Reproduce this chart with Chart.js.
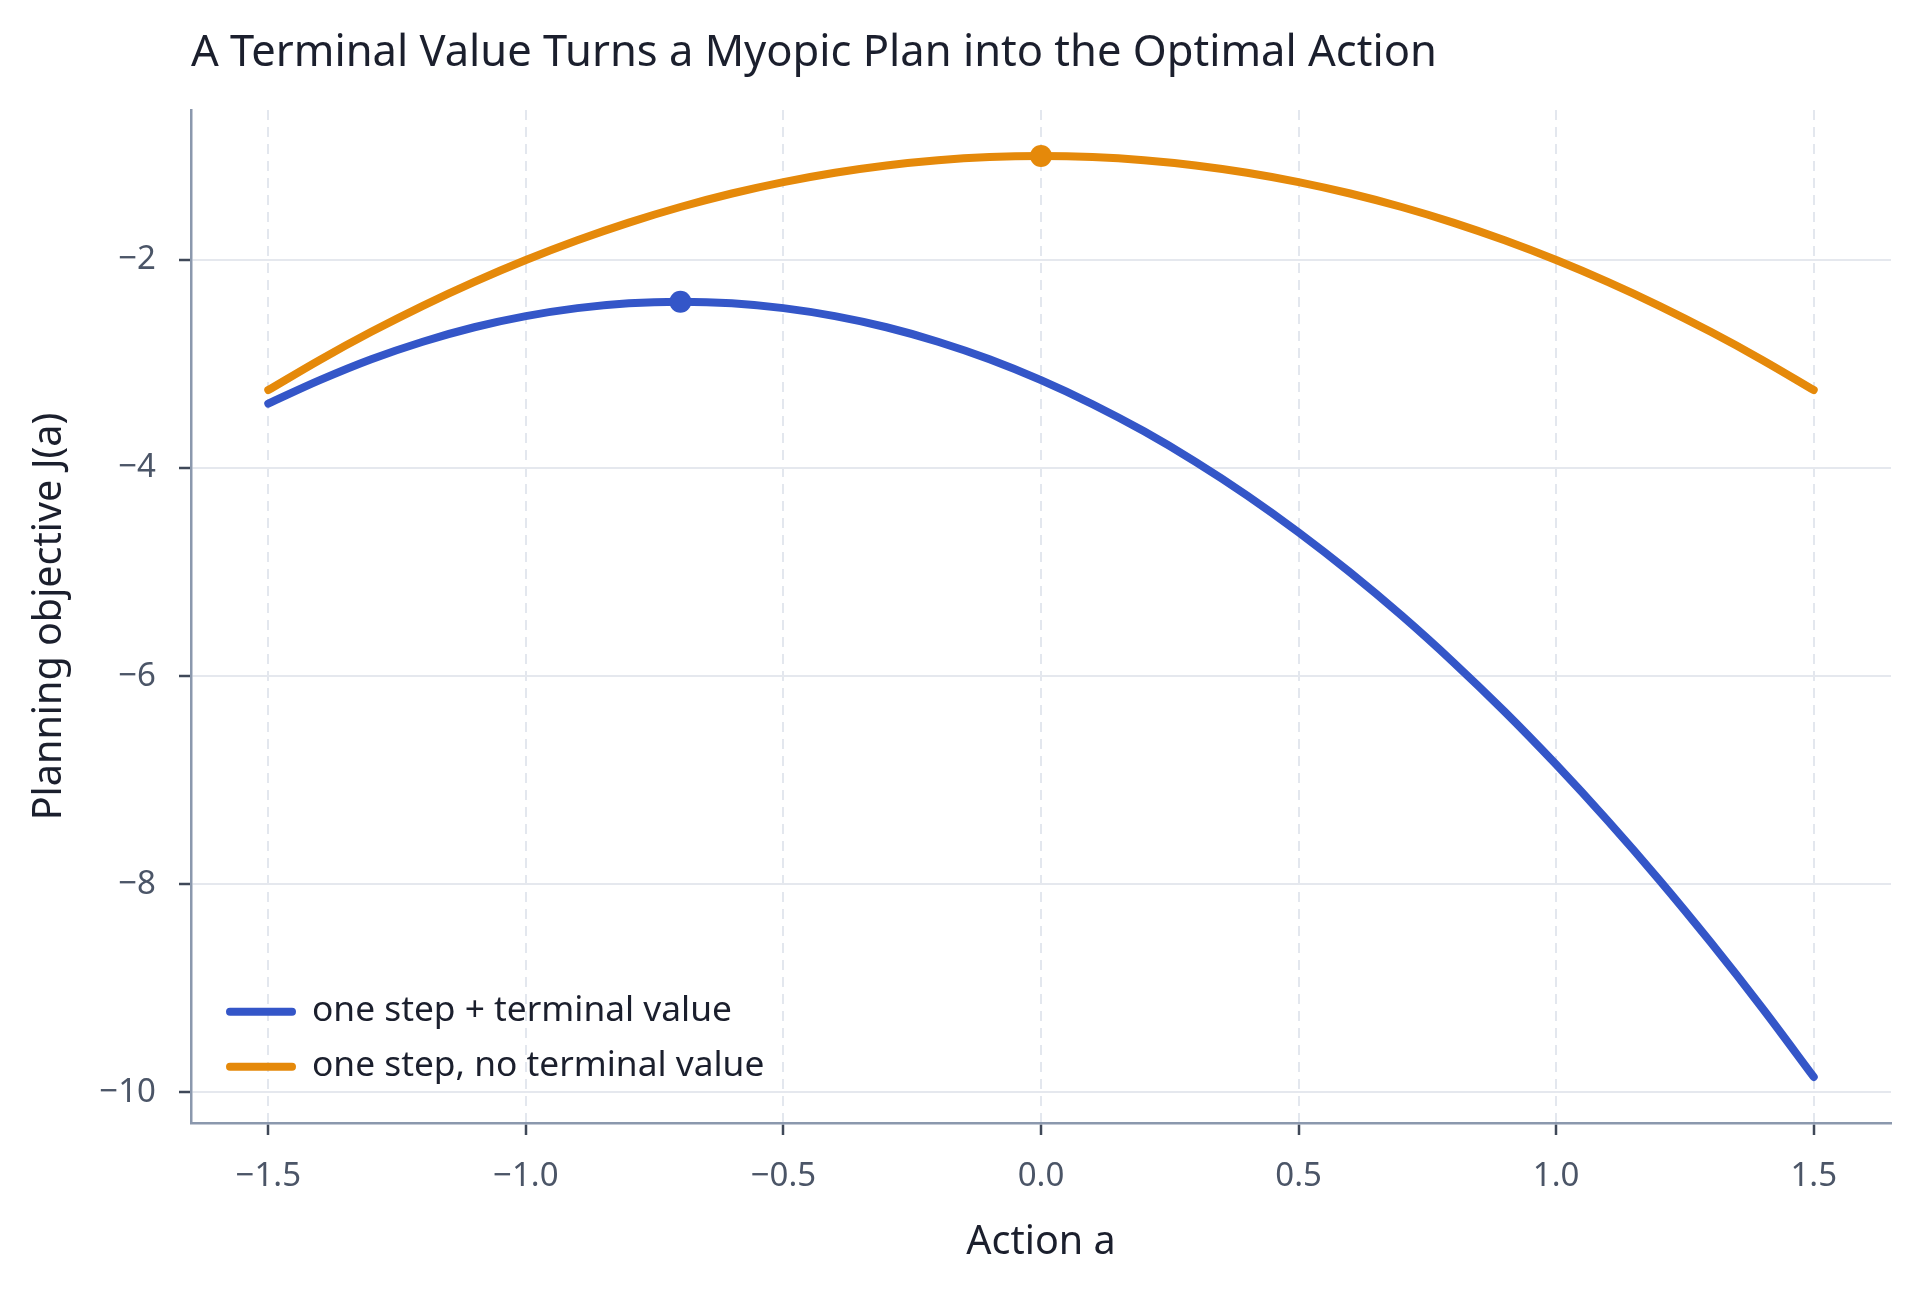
<!DOCTYPE html>
<html>
<head>
<meta charset="utf-8">
<script src="https://cdn.jsdelivr.net/npm/chart.js@4.4.1/dist/chart.umd.min.js"></script>
<style>
  html, body { margin: 0; padding: 0; background: #ffffff; overflow: hidden; }
  #wrap { width: 1920px; height: 1292px; }
  canvas { display: block; }
</style>
</head>
<body>
<div id="wrap"><canvas id="c" width="1920" height="1292" style="width:1920px;height:1292px"></canvas></div>
<script>
// ---- data ----
const actions = [-1.5, -1.4, -1.3, -1.2, -1.1, -1.0, -0.9, -0.8, -0.7, -0.6, -0.5, -0.4, -0.3, -0.2, -0.1,
                 0.0, 0.1, 0.2, 0.3, 0.4, 0.5, 0.6, 0.7, 0.8, 0.9, 1.0, 1.1, 1.2, 1.3, 1.4, 1.5];
const withTerminal = [-3.380, -3.155, -2.954, -2.785, -2.646, -2.539, -2.462, -2.415, -2.400, -2.415, -2.462, -2.539, -2.646, -2.785, -2.954,
                      -3.155, -3.386, -3.647, -3.940, -4.263, -4.618, -5.003, -5.418, -5.865, -6.342, -6.851, -7.390, -7.959, -8.560, -9.191, -9.854];
const noTerminal = [-3.25, -2.96, -2.69, -2.44, -2.21, -2.00, -1.81, -1.64, -1.49, -1.36, -1.25, -1.16, -1.09, -1.04, -1.01,
                    -1.00, -1.01, -1.04, -1.09, -1.16, -1.25, -1.36, -1.49, -1.64, -1.81, -2.00, -2.21, -2.44, -2.69, -2.96, -3.25];
const optimumA = [-0.7, 0.0];
const optimumJ = [-2.40, -1.00];
const seriesLabels = ['one step + terminal value', 'one step, no terminal value'];
const xTicks = [-1.5, -1.0, -0.5, 0.0, 0.5, 1.0, 1.5];
const yTicks = [-10, -8, -6, -4, -2];
const titleText = 'A Terminal Value Turns a Myopic Plan into the Optimal Action';
const xTitle = 'Action a';
const yTitle = 'Planning objective J(a)';

// ---- styling ----
const BLUE = '#3456c8';
const ORANGE = '#e5890a';
const FONT = '"Noto Sans", "DejaVu Sans", sans-serif';
const MINUS = '\u2212';

const toPts = (xs, ys) => xs.map((x, i) => ({ x: x, y: ys[i] }));

// axis ranges from the data with a 5% margin
const allY = withTerminal.concat(noTerminal);
const yLo = Math.min(...allY), yHi = Math.max(...allY);
const xLo = Math.min(...actions), xHi = Math.max(...actions);
const yPad = (yHi - yLo) * 0.05, xPad = (xHi - xLo) * 0.05;

const insideLegend = {
  id: 'insideLegend',
  afterDraw(chart, args, opts) {
    const { ctx, chartArea } = chart;
    const items = chart.data.datasets.filter(d => d.inLegend);
    ctx.save();
    items.forEach((d, i) => {
      const cy = chartArea.bottom - opts.firstFromBottom + i * opts.rowGap;
      const x0 = chartArea.left + opts.lineLeft;
      ctx.strokeStyle = d.borderColor;
      ctx.lineWidth = opts.lineWidth;
      ctx.lineCap = 'round';
      ctx.beginPath();
      ctx.moveTo(x0 + opts.lineWidth / 2, cy);
      ctx.lineTo(x0 + opts.lineLen - opts.lineWidth / 2, cy);
      ctx.stroke();
      ctx.fillStyle = opts.color;
      ctx.font = opts.fontSize + 'px ' + FONT;
      ctx.textAlign = 'left';
      ctx.textBaseline = 'alphabetic';
      ctx.fillText(d.label, chartArea.left + opts.textLeft, cy + opts.baselineShift);
    });
    ctx.restore();
  }
};

function build() {
  const ctx = document.getElementById('c').getContext('2d');
  new Chart(ctx, {
    type: 'scatter',
    data: {
      datasets: [
        {
          label: seriesLabels[0], inLegend: true,
          data: toPts(actions, withTerminal),
          showLine: true, borderColor: BLUE, backgroundColor: BLUE,
          borderWidth: 8, pointRadius: 0, pointHoverRadius: 0,
          cubicInterpolationMode: 'monotone', borderCapStyle: 'round', borderJoinStyle: 'round',
          order: 3
        },
        {
          label: seriesLabels[1], inLegend: true,
          data: toPts(actions, noTerminal),
          showLine: true, borderColor: ORANGE, backgroundColor: ORANGE,
          borderWidth: 8, pointRadius: 0, pointHoverRadius: 0,
          cubicInterpolationMode: 'monotone', borderCapStyle: 'round', borderJoinStyle: 'round',
          order: 2
        },
        {
          label: 'optimum (terminal value)',
          data: [{ x: optimumA[0], y: optimumJ[0] }],
          showLine: false, pointRadius: 11, pointBorderWidth: 0,
          backgroundColor: BLUE, borderColor: BLUE, order: 1
        },
        {
          label: 'optimum (no terminal value)',
          data: [{ x: optimumA[1], y: optimumJ[1] }],
          showLine: false, pointRadius: 11, pointBorderWidth: 0,
          backgroundColor: ORANGE, borderColor: ORANGE, order: 1
        }
      ]
    },
    options: {
      responsive: false,
      animation: false,
      devicePixelRatio: 1,
      layout: { padding: { top: 0, right: 29, bottom: 0, left: 0 } },
      plugins: {
        legend: { display: false },
        tooltip: { enabled: false },
        title: {
          display: true, text: titleText, align: 'start', fullSize: false,
          color: '#1b1f2d',
          font: { family: FONT, size: 43.5, weight: 'normal', lineHeight: 1.2 },
          padding: { top: 28, bottom: 29.8 }
        },
        insideLegend: {
          firstFromBottom: 111.3, rowGap: 55, lineLeft: 35, lineLen: 70, lineWidth: 8,
          textLeft: 121, fontSize: 35.3, baselineShift: 9.5, color: '#1b1f2d'
        }
      },
      scales: {
        x: {
          type: 'linear', position: 'bottom',
          min: xLo - xPad, max: xHi + xPad,
          afterBuildTicks: s => { s.ticks = xTicks.map(v => ({ value: v })); },
          afterFit: s => { s.height = 169; },
          ticks: {
            color: '#4b5567', padding: 21.5,
            font: { family: FONT, size: 33 },
            callback: v => (v < 0 ? MINUS : '') + Math.abs(v).toFixed(1)
          },
          grid: {
            color: '#e3e7ee', lineWidth: 2, drawTicks: true, tickLength: 12,
            tickColor: '#3f4858', tickWidth: 2.5, tickBorderDash: []
          },
          border: { display: true, color: '#8b98ad', width: 2.5, dash: [10, 7] },
          title: {
            display: true, text: xTitle, color: '#1b1f2d',
            font: { family: FONT, size: 39.5 },
            padding: { top: 0, bottom: 25.6 }
          }
        },
        y: {
          type: 'linear', position: 'left',
          min: yLo - yPad, max: yHi + yPad,
          afterBuildTicks: s => { s.ticks = yTicks.map(v => ({ value: v })); },
          afterFit: s => { s.width = 191; },
          ticks: {
            color: '#4b5567', padding: 23,
            font: { family: FONT, size: 33 },
            callback: v => (v < 0 ? MINUS : '') + Math.abs(v)
          },
          grid: {
            color: '#e5e8ee', lineWidth: 2, drawTicks: true, tickLength: 12,
            tickColor: '#3f4858', tickWidth: 2.5, tickBorderDash: []
          },
          border: { display: true, color: '#8b98ad', width: 2.5 },
          title: {
            display: true, text: yTitle, color: '#1b1f2d',
            font: { family: FONT, size: 39.5 },
            padding: { top: 26, bottom: 0 }
          }
        }
      }
    },
    plugins: [insideLegend]
  });
}

const ready = (document.fonts && document.fonts.load)
  ? Promise.all([document.fonts.load('43px "Noto Sans"'), document.fonts.load('33px "Noto Sans"')]).catch(() => {})
  : Promise.resolve();
ready.then(build);
</script>
</body>
</html>
